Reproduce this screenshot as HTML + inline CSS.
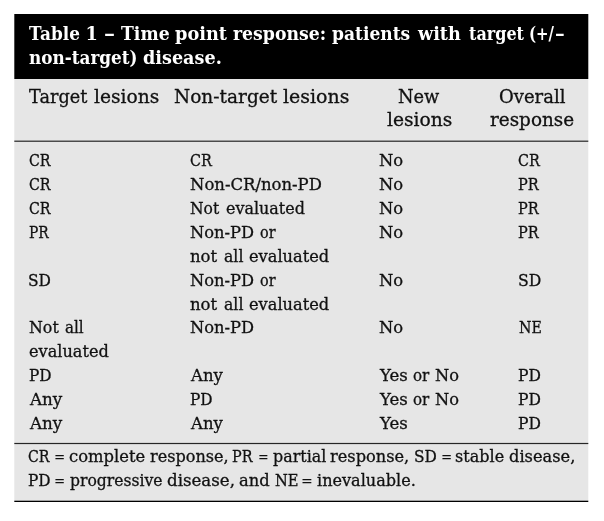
<!DOCTYPE html>
<html lang="en">
<head>
<meta charset="utf-8">
<title>Table 1</title>
<style>
html,body{margin:0;padding:0;background:#fff;}
body{width:604px;height:521px;position:relative;overflow:hidden;font-family:"DejaVu Serif", "Liberation Serif", serif;color:#111;}
.bg{position:absolute;left:0;top:0;display:block;}
.t{position:absolute;white-space:nowrap;line-height:24px;transform-origin:0 0;}
.e{-webkit-text-stroke:0 !important;}
.ti{font-size:17.8px;font-weight:bold;color:#fff;}
.h{font-size:18.3px;-webkit-text-stroke:0.3px #111;}
.b{font-size:16px;-webkit-text-stroke:0.3px #111;}
.f{font-size:16px;-webkit-text-stroke:0.3px #111;}
</style>
</head>
<body>
<svg class="bg" width="604" height="521" viewBox="0 0 604 521" aria-hidden="true">
<rect x="14.3" y="79" width="574" height="422" fill="#e6e6e6"/>
<rect x="14.3" y="14" width="574" height="65" fill="#000"/>
<rect x="14.3" y="140.6" width="574" height="1.2" fill="#262626"/>
<rect x="14.3" y="442.9" width="574" height="1.2" fill="#262626"/>
<rect x="14.3" y="500.7" width="574" height="1.3" fill="#000"/>
</svg>
<span class="t ti" style="left:29.30px;top:22px;transform:scaleX(0.9504)">Table</span>
<span class="t ti" style="left:85.40px;top:22px;transform:scaleX(1.0000)">1</span>
<span class="t ti" style="left:104.40px;top:22px;transform:scaleX(1.2375)">–</span>
<span class="t ti" style="left:121.20px;top:22px;transform:scaleX(0.9699)">Time</span>
<span class="t ti" style="left:175.40px;top:22px;transform:scaleX(0.9967)">point</span>
<span class="t ti" style="left:233.30px;top:22px;transform:scaleX(0.9720)">response:</span>
<span class="t ti" style="left:332.40px;top:22px;transform:scaleX(0.9610)">patients</span>
<span class="t ti" style="left:417.89px;top:22px;transform:scaleX(0.9915)">with</span>
<span class="t ti" style="left:468.80px;top:22px;transform:scaleX(0.9006)">target</span>
<span class="t ti" style="left:528.96px;top:22px;transform:scaleX(0.8393)">(+/</span>
<span class="t ti" style="left:554.80px;top:22px;transform:scaleX(1.0875)">–</span>
<span class="t ti" style="left:29.00px;top:46px;transform:scaleX(0.9473)">non-target)</span>
<span class="t ti" style="left:142.60px;top:46px;transform:scaleX(0.9903)">disease.</span>
<span class="t h" style="left:29.30px;top:85px;transform:scaleX(0.9666)">Target</span>
<span class="t h" style="left:94.10px;top:85px;transform:scaleX(1.0193)">lesions</span>
<span class="t h" style="left:174.20px;top:85px;transform:scaleX(1.0131)">Non-target</span>
<span class="t h" style="left:282.50px;top:85px;transform:scaleX(1.0365)">lesions</span>
<span class="t h" style="left:398.20px;top:85px;transform:scaleX(0.9740)">New</span>
<span class="t h" style="left:498.82px;top:85px;transform:scaleX(0.9847)">Overall</span>
<span class="t h" style="left:386.50px;top:108px;transform:scaleX(1.0208)">lesions</span>
<span class="t h" style="left:489.90px;top:108px;transform:scaleX(1.0060)">response</span>
<span class="t b" style="left:28.70px;top:149px;transform:scaleX(0.8874)">CR</span>
<span class="t b" style="left:189.80px;top:149px;transform:scaleX(0.8993)">CR</span>
<span class="t b" style="left:378.80px;top:149px;transform:scaleX(1.0217)">No</span>
<span class="t b" style="left:518.30px;top:149px;transform:scaleX(0.8953)">CR</span>
<span class="t b" style="left:28.70px;top:173px;transform:scaleX(0.8874)">CR</span>
<span class="t b" style="left:190.00px;top:173px;transform:scaleX(1.0280)">Non-CR/non-PD</span>
<span class="t b" style="left:378.80px;top:173px;transform:scaleX(1.0217)">No</span>
<span class="t b" style="left:518.30px;top:173px;transform:scaleX(0.9047)">PR</span>
<span class="t b" style="left:28.70px;top:197px;transform:scaleX(0.8874)">CR</span>
<span class="t b" style="left:190.30px;top:197px;transform:scaleX(0.9695)">Not</span>
<span class="t b" style="left:225.80px;top:197px;transform:scaleX(0.9974)">evaluated</span>
<span class="t b" style="left:378.80px;top:197px;transform:scaleX(1.0217)">No</span>
<span class="t b" style="left:518.30px;top:197px;transform:scaleX(0.9047)">PR</span>
<span class="t b" style="left:28.70px;top:221px;transform:scaleX(0.8626)">PR</span>
<span class="t b" style="left:190.20px;top:221px;transform:scaleX(1.0176)">Non-PD</span>
<span class="t b" style="left:260.00px;top:221px;transform:scaleX(0.8961)">or</span>
<span class="t b" style="left:378.80px;top:221px;transform:scaleX(1.0217)">No</span>
<span class="t b" style="left:518.30px;top:221px;transform:scaleX(0.9047)">PR</span>
<span class="t b" style="left:190.10px;top:245px;transform:scaleX(1.0283)">not</span>
<span class="t b" style="left:224.00px;top:245px;transform:scaleX(0.9819)">all</span>
<span class="t b" style="left:248.50px;top:245px;transform:scaleX(1.0126)">evaluated</span>
<span class="t b" style="left:28.43px;top:269px;transform:scaleX(0.9654)">SD</span>
<span class="t b" style="left:190.20px;top:269px;transform:scaleX(1.0176)">Non-PD</span>
<span class="t b" style="left:260.00px;top:269px;transform:scaleX(0.8961)">or</span>
<span class="t b" style="left:378.80px;top:269px;transform:scaleX(1.0217)">No</span>
<span class="t b" style="left:518.32px;top:269px;transform:scaleX(0.9790)">SD</span>
<span class="t b" style="left:190.10px;top:293px;transform:scaleX(1.0283)">not</span>
<span class="t b" style="left:224.00px;top:293px;transform:scaleX(0.9819)">all</span>
<span class="t b" style="left:248.50px;top:293px;transform:scaleX(1.0126)">evaluated</span>
<span class="t b" style="left:28.70px;top:316px;transform:scaleX(0.9891)">Not</span>
<span class="t b" style="left:65.20px;top:316px;transform:scaleX(0.9463)">all</span>
<span class="t b" style="left:190.20px;top:316px;transform:scaleX(1.0176)">Non-PD</span>
<span class="t b" style="left:378.80px;top:316px;transform:scaleX(1.0217)">No</span>
<span class="t b" style="left:519.30px;top:316px;transform:scaleX(0.8880)">NE</span>
<span class="t b" style="left:28.70px;top:340px;transform:scaleX(1.0088)">evaluated</span>
<span class="t b" style="left:28.70px;top:364px;transform:scaleX(0.9576)">PD</span>
<span class="t b" style="left:190.83px;top:364px;transform:scaleX(1.0295)">Any</span>
<span class="t b" style="left:379.83px;top:364px;transform:scaleX(1.0347)">Yes</span>
<span class="t b" style="left:413.20px;top:364px;transform:scaleX(0.9414)">or</span>
<span class="t b" style="left:435.40px;top:364px;transform:scaleX(1.0130)">No</span>
<span class="t b" style="left:518.30px;top:364px;transform:scaleX(0.9708)">PD</span>
<span class="t b" style="left:29.75px;top:388px;transform:scaleX(1.0452)">Any</span>
<span class="t b" style="left:190.00px;top:388px;transform:scaleX(0.9576)">PD</span>
<span class="t b" style="left:379.83px;top:388px;transform:scaleX(1.0347)">Yes</span>
<span class="t b" style="left:413.20px;top:388px;transform:scaleX(0.9414)">or</span>
<span class="t b" style="left:435.40px;top:388px;transform:scaleX(1.0130)">No</span>
<span class="t b" style="left:518.30px;top:388px;transform:scaleX(0.9708)">PD</span>
<span class="t b" style="left:29.75px;top:412px;transform:scaleX(1.0452)">Any</span>
<span class="t b" style="left:190.83px;top:412px;transform:scaleX(1.0295)">Any</span>
<span class="t b" style="left:379.83px;top:412px;transform:scaleX(1.0347)">Yes</span>
<span class="t b" style="left:518.30px;top:412px;transform:scaleX(0.9708)">PD</span>
<span class="t f" style="left:28.00px;top:445px;transform:scaleX(0.8834)">CR</span>
<span class="t f e" style="left:54.16px;top:445px;transform:scaleX(0.8364)">=</span>
<span class="t f" style="left:68.50px;top:445px;transform:scaleX(1.0226)">complete</span>
<span class="t f" style="left:150.40px;top:445px;transform:scaleX(1.0053)">response,</span>
<span class="t f" style="left:232.40px;top:445px;transform:scaleX(0.8963)">PR</span>
<span class="t f e" style="left:257.90px;top:445px;transform:scaleX(0.8000)">=</span>
<span class="t f" style="left:272.50px;top:445px;transform:scaleX(0.9941)">partial</span>
<span class="t f" style="left:330.40px;top:445px;transform:scaleX(1.0118)">response,</span>
<span class="t f" style="left:413.84px;top:445px;transform:scaleX(0.9608)">SD</span>
<span class="t f e" style="left:440.56px;top:445px;transform:scaleX(0.8364)">=</span>
<span class="t f" style="left:455.00px;top:445px;transform:scaleX(1.0033)">stable</span>
<span class="t f" style="left:509.10px;top:445px;transform:scaleX(1.0147)">disease,</span>
<span class="t f" style="left:28.00px;top:469px;transform:scaleX(0.9576)">PD</span>
<span class="t f e" style="left:54.16px;top:469px;transform:scaleX(0.8364)">=</span>
<span class="t f" style="left:70.00px;top:469px;transform:scaleX(0.9739)">progressive</span>
<span class="t f" style="left:167.30px;top:469px;transform:scaleX(1.0396)">disease,</span>
<span class="t f" style="left:238.70px;top:469px;transform:scaleX(1.0186)">and</span>
<span class="t f" style="left:274.80px;top:469px;transform:scaleX(0.9160)">NE</span>
<span class="t f e" style="left:300.92px;top:469px;transform:scaleX(0.8818)">=</span>
<span class="t f" style="left:316.60px;top:469px;transform:scaleX(1.0045)">inevaluable.</span>
</body>
</html>
